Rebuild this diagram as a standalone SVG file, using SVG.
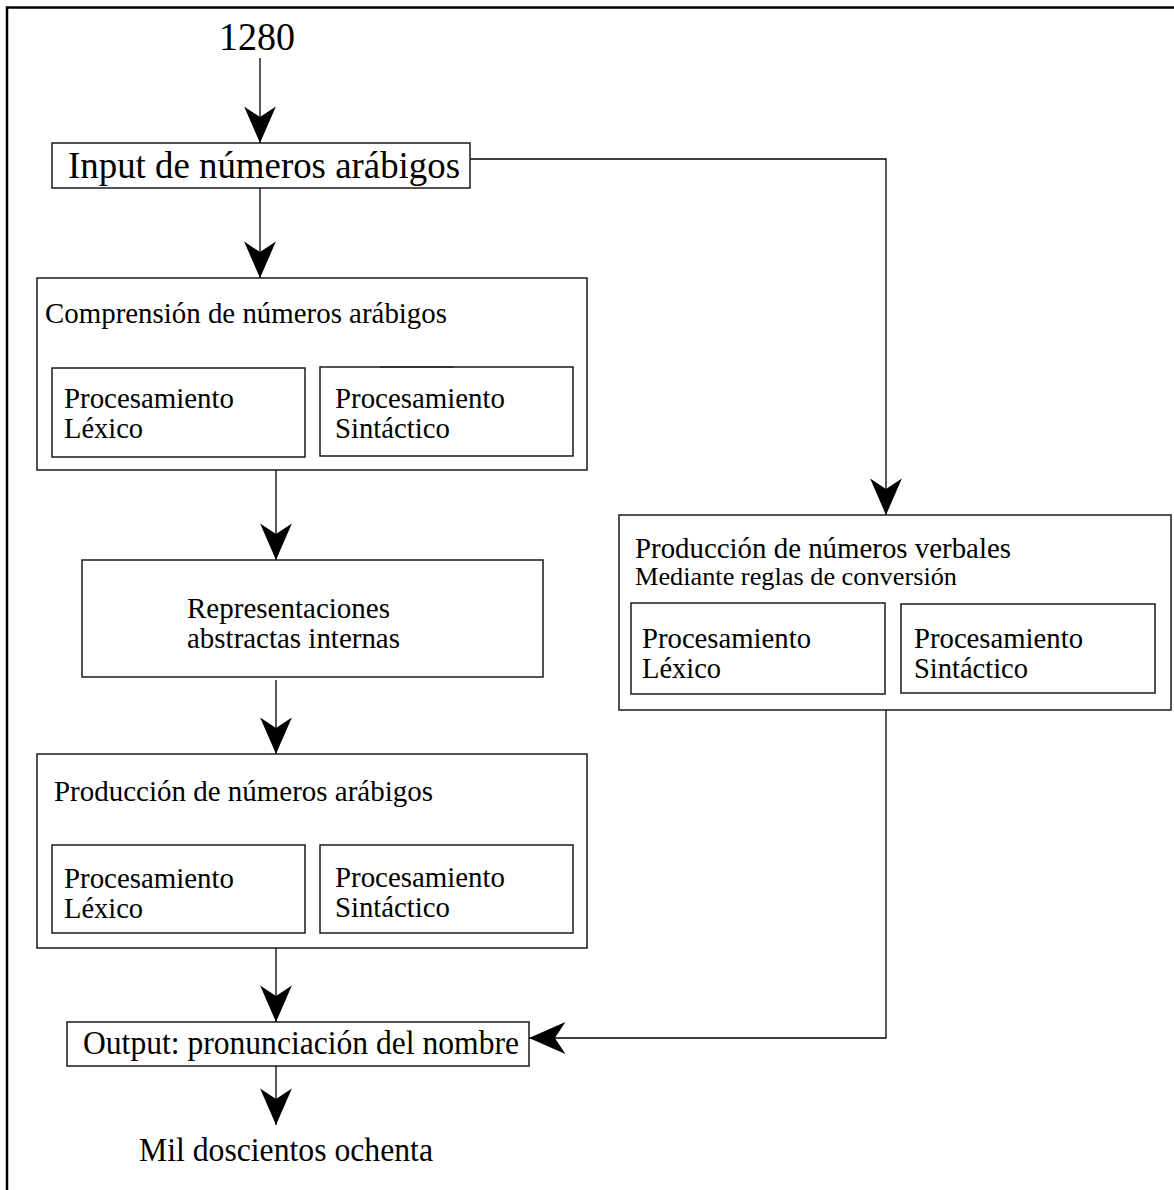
<svg xmlns="http://www.w3.org/2000/svg" width="1174" height="1190" viewBox="0 0 1174 1190">
  <style>
    .box { fill: #fff; stroke: #1a1a1a; stroke-width: 1.5; }
    .wire { fill: none; stroke: #000; stroke-width: 1.3; }
    .t { font-family: "Liberation Serif", "Times New Roman", serif; fill: #000; }
    .t29 { font-size: 30px; }
    .t26 { font-size: 26px; }
    .t32 { font-size: 34px; }
    .t36 { font-size: 38px; }
  </style>
  <defs>
    <marker id="head" markerUnits="userSpaceOnUse" markerWidth="40" markerHeight="40" viewBox="-32 -16 34 32" refX="0" refY="0" orient="auto">
      <path d="M0,0 L-31,-13.5 L-22,0 L-31,13.5 Z" fill="#000"/>
    </marker>
  </defs>

  <rect width="1174" height="1190" fill="#fff"/>

  <!-- frame: top and left rule only -->
  <path d="M7,1190 L7,7.5 L1174,7.5" fill="none" stroke="#000" stroke-width="2.5"/>

  <g id="connectors">
    <path class="wire" d="M260,58 L260,143" marker-end="url(#head)"/>
    <path class="wire" d="M260,188 L260,278" marker-end="url(#head)"/>
    <path class="wire" d="M470,159 L886,159 L886,515" marker-end="url(#head)"/>
    <path class="wire" d="M276,470 L276,560" marker-end="url(#head)"/>
    <path class="wire" d="M276,680 L276,754" marker-end="url(#head)"/>
    <path class="wire" d="M276,948 L276,1022" marker-end="url(#head)"/>
    <path class="wire" d="M886,710 L886,1038 L529,1038" marker-end="url(#head)"/>
    <path class="wire" d="M276,1066 L276,1125" marker-end="url(#head)"/>
  </g>

  <g id="start">
    <text class="t" x="219" y="50" font-size="40" textLength="76" lengthAdjust="spacingAndGlyphs">1280</text>
  </g>

  <g id="input">
    <rect class="box" x="52" y="143" width="418" height="45"/>
    <text class="t t36" x="68" y="178" textLength="392" lengthAdjust="spacingAndGlyphs">Input de números arábigos</text>
  </g>

  <g id="comprension">
    <rect class="box" x="37" y="278" width="550" height="192"/>
    <text class="t t29" x="45" y="323" textLength="402" lengthAdjust="spacingAndGlyphs">Comprensión de números arábigos</text>
    <g id="comprension-lexico">
      <rect class="box" x="52" y="368" width="253" height="89"/>
      <text class="t t29" x="64" y="408" textLength="170" lengthAdjust="spacingAndGlyphs">Procesamiento</text>
      <text class="t t29" x="64" y="438" textLength="79" lengthAdjust="spacingAndGlyphs">Léxico</text>
    </g>
    <g id="comprension-sintactico">
      <rect class="box" x="320" y="367" width="253" height="89"/>
      <line x1="380" y1="367" x2="454" y2="367" stroke="#333" stroke-width="2"/>
      <text class="t t29" x="335" y="408" textLength="170" lengthAdjust="spacingAndGlyphs">Procesamiento</text>
      <text class="t t29" x="335" y="438" textLength="115" lengthAdjust="spacingAndGlyphs">Sintáctico</text>
    </g>
  </g>

  <g id="representaciones">
    <rect class="box" x="82" y="560" width="461" height="117"/>
    <text class="t t29" x="187" y="618" textLength="203" lengthAdjust="spacingAndGlyphs">Representaciones</text>
    <text class="t t29" x="187" y="648" textLength="213" lengthAdjust="spacingAndGlyphs">abstractas internas</text>
  </g>

  <g id="produccion-arabigos">
    <rect class="box" x="37" y="754" width="550" height="194"/>
    <text class="t t29" x="54" y="801" textLength="379" lengthAdjust="spacingAndGlyphs">Producción de números arábigos</text>
    <g id="produccion-arabigos-lexico">
      <rect class="box" x="52" y="845" width="253" height="88"/>
      <text class="t t29" x="64" y="888" textLength="170" lengthAdjust="spacingAndGlyphs">Procesamiento</text>
      <text class="t t29" x="64" y="918" textLength="79" lengthAdjust="spacingAndGlyphs">Léxico</text>
    </g>
    <g id="produccion-arabigos-sintactico">
      <rect class="box" x="320" y="845" width="253" height="88"/>
      <text class="t t29" x="335" y="887" textLength="170" lengthAdjust="spacingAndGlyphs">Procesamiento</text>
      <text class="t t29" x="335" y="917" textLength="115" lengthAdjust="spacingAndGlyphs">Sintáctico</text>
    </g>
  </g>

  <g id="produccion-verbales">
    <rect class="box" x="619" y="515" width="552" height="195"/>
    <text class="t" x="635" y="558" font-size="29" textLength="376" lengthAdjust="spacingAndGlyphs">Producción de números verbales</text>
    <text class="t t26" x="635" y="585" textLength="322" lengthAdjust="spacingAndGlyphs">Mediante reglas de conversión</text>
    <g id="produccion-verbales-lexico">
      <rect class="box" x="631" y="603" width="254" height="91"/>
      <text class="t t29" x="642" y="648" textLength="169" lengthAdjust="spacingAndGlyphs">Procesamiento</text>
      <text class="t t29" x="642" y="678" textLength="79" lengthAdjust="spacingAndGlyphs">Léxico</text>
    </g>
    <g id="produccion-verbales-sintactico">
      <rect class="box" x="901" y="604" width="254" height="89"/>
      <text class="t t29" x="914" y="648" textLength="169" lengthAdjust="spacingAndGlyphs">Procesamiento</text>
      <text class="t t29" x="914" y="678" textLength="114" lengthAdjust="spacingAndGlyphs">Sintáctico</text>
    </g>
  </g>

  <g id="output">
    <rect class="box" x="67" y="1022" width="462" height="44"/>
    <text class="t t32" x="83" y="1054" textLength="436" lengthAdjust="spacingAndGlyphs">Output: pronunciación del nombre</text>
  </g>

  <g id="result">
    <text class="t t32" x="139" y="1161" textLength="294" lengthAdjust="spacingAndGlyphs">Mil doscientos ochenta</text>
  </g>
</svg>
